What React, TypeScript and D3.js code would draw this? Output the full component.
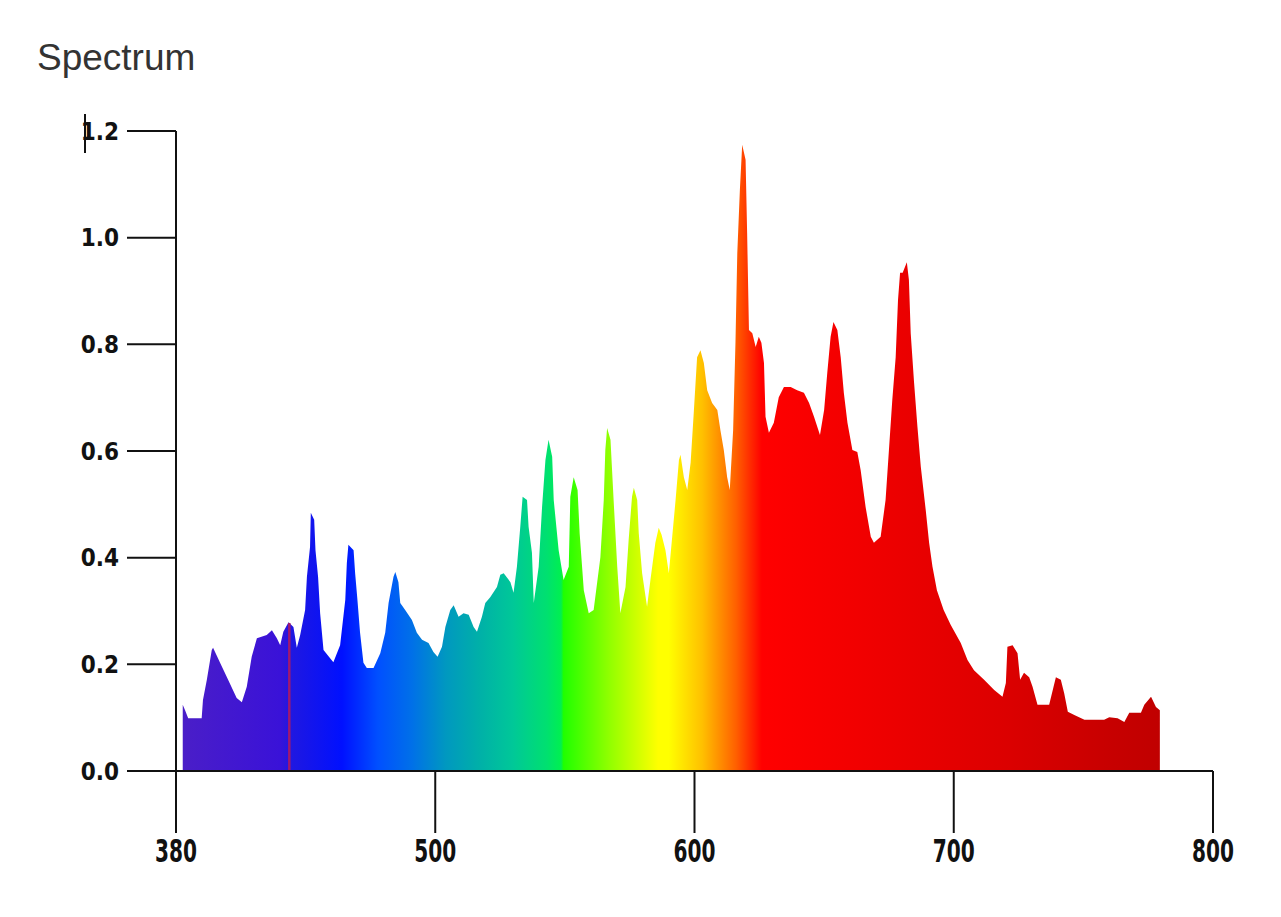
import React from "react";
import * as d3 from "d3";

// ---- data ----
const wavelengths = [
  402.6, 403.5, 404.7, 409.9, 410.4, 411.9, 413.8, 414.3, 417.0, 420.1,
  423.4, 425.4, 427.3, 429.2, 431.2, 435.0, 437.0, 438.9, 440.2, 441.4,
  443.4, 445.3, 446.6, 447.9, 449.8, 450.5, 451.7, 452.0, 453.3, 453.8,
  454.8, 455.6, 456.9, 460.7, 463.3, 465.3, 465.9, 466.5, 468.5, 469.1,
  469.9, 471.0, 472.3, 473.6, 476.2, 478.8, 480.7, 482.0, 483.9, 484.6,
  485.8, 486.5, 488.4, 491.0, 492.9, 494.9, 497.4, 499.3, 500.9, 502.6,
  503.9, 505.8, 507.1, 509.0, 510.9, 512.9, 514.8, 516.1, 518.0, 519.3,
  521.2, 523.8, 525.1, 526.4, 529.0, 530.2, 531.5, 532.8, 533.7, 535.4,
  536.0, 537.3, 538.0, 539.9, 541.2, 542.5, 543.7, 545.1, 545.7, 547.6,
  549.5, 551.5, 552.1, 553.4, 554.9, 555.7, 557.3, 559.2, 561.1, 563.7,
  565.0, 565.6, 566.3, 567.6, 568.8, 570.2, 571.4, 573.4, 574.6, 575.9,
  576.6, 577.9, 578.5, 579.8, 581.7, 583.0, 584.9, 586.2, 587.3, 588.8,
  590.1, 591.4, 592.7, 594.0, 594.6, 595.9, 597.2, 598.5, 599.7, 601.0,
  602.3, 603.6, 604.9, 606.8, 608.8, 610.0, 611.3, 612.6, 613.6, 614.9,
  615.8, 616.5, 617.5, 618.4, 619.7, 620.3, 621.0, 622.3, 623.6, 624.8,
  625.8, 626.8, 627.4, 628.7, 630.6, 632.5, 634.5, 637.1, 639.6, 642.2,
  644.2, 646.1, 648.4, 650.0, 651.2, 652.5, 653.6, 655.1, 656.4, 657.6,
  659.0, 660.9, 662.8, 664.1, 666.0, 668.0, 669.2, 671.8, 673.7, 675.0,
  676.3, 677.6, 678.5, 679.3, 680.3, 681.9, 682.7, 683.4, 684.7, 686.0,
  687.3, 689.2, 690.5, 691.8, 693.5, 696.1, 698.8, 702.7, 705.3, 707.8,
  711.7, 715.6, 718.8, 720.1, 720.7, 722.7, 724.6, 725.6, 727.1, 729.1,
  730.4, 732.3, 736.8, 738.5, 739.4, 741.3, 742.6, 744.0, 746.5, 750.4,
  758.0, 760.0, 763.2, 765.8, 767.7, 772.2, 773.5, 776.1, 778.0, 779.5,
];
const intensities = [
  0.124, 0.114, 0.099, 0.099, 0.133, 0.171, 0.227, 0.231, 0.203, 0.171,
  0.137, 0.129, 0.158, 0.214, 0.249, 0.255, 0.264, 0.249, 0.236, 0.261,
  0.279, 0.270, 0.231, 0.255, 0.302, 0.364, 0.420, 0.484, 0.471, 0.414,
  0.364, 0.296, 0.227, 0.204, 0.236, 0.321, 0.390, 0.424, 0.414, 0.371,
  0.326, 0.259, 0.203, 0.193, 0.193, 0.221, 0.259, 0.315, 0.364, 0.373,
  0.354, 0.315, 0.302, 0.283, 0.259, 0.246, 0.240, 0.223, 0.214, 0.233,
  0.270, 0.302, 0.311, 0.289, 0.296, 0.293, 0.270, 0.261, 0.289, 0.315,
  0.326, 0.345, 0.368, 0.371, 0.354, 0.334, 0.383, 0.458, 0.514, 0.508,
  0.458, 0.409, 0.315, 0.383, 0.495, 0.583, 0.621, 0.589, 0.508, 0.414,
  0.358, 0.383, 0.514, 0.551, 0.527, 0.446, 0.339, 0.296, 0.302, 0.401,
  0.508, 0.602, 0.643, 0.621, 0.508, 0.383, 0.296, 0.345, 0.433, 0.514,
  0.531, 0.508, 0.446, 0.371, 0.308, 0.358, 0.428, 0.456, 0.443, 0.414,
  0.371, 0.439, 0.508, 0.583, 0.593, 0.551, 0.527, 0.578, 0.671, 0.776,
  0.789, 0.765, 0.714, 0.690, 0.677, 0.639, 0.602, 0.551, 0.527, 0.639,
  0.803, 0.971, 1.089, 1.174, 1.146, 1.009, 0.827, 0.821, 0.795, 0.814,
  0.803, 0.765, 0.664, 0.634, 0.653, 0.701, 0.720, 0.720, 0.714, 0.709,
  0.690, 0.664, 0.630, 0.677, 0.746, 0.814, 0.842, 0.827, 0.776, 0.709,
  0.653, 0.602, 0.598, 0.564, 0.495, 0.439, 0.428, 0.439, 0.508, 0.602,
  0.696, 0.776, 0.883, 0.934, 0.934, 0.954, 0.921, 0.821, 0.728, 0.645,
  0.570, 0.489, 0.428, 0.383, 0.339, 0.302, 0.274, 0.240, 0.208, 0.189,
  0.171, 0.152, 0.139, 0.165, 0.233, 0.236, 0.221, 0.171, 0.184, 0.176,
  0.158, 0.124, 0.124, 0.158, 0.176, 0.171, 0.146, 0.111, 0.105, 0.096,
  0.096, 0.101, 0.099, 0.092, 0.109, 0.109, 0.124, 0.139, 0.120, 0.114,
];

// spectral colour stops (wavelength -> colour)
const stopWavelengths = [
  402.6, 440, 444, 464, 478, 491, 504, 517, 530, 543, 548.5, 549.5,
  567, 586, 590, 603, 616, 626, 668, 720, 759, 780,
];
const stopColors = [
  "#4a1ec8", "#3a12d8", "#2018e0", "#0010ff", "#0050ff", "#0070e8",
  "#0098c0", "#00b0a8", "#00c898", "#00e070", "#00f050", "#20ff00",
  "#90ff00", "#ffff00", "#ffff00", "#ffc000", "#ff6000", "#ff0000",
  "#f00000", "#dc0000", "#c80000", "#c00000",
];

const markerWavelength = 443.7;

const xDomain = [400, 800];
const xTickValues = [400, 500, 600, 700, 800];
const xTickLabels = ["380", "500", "600", "700", "800"];
const yDomain = [0, 1.2];
const yTickValues = [0, 0.2, 0.4, 0.6, 0.8, 1.0, 1.2];

const title = "Spectrum";

export default function App() {
  const W = 1281;
  const H = 917;
  const left = 176;
  const right = 1213;
  const top = 131;
  const bottom = 771;

  const x = d3.scaleLinear().domain(xDomain).range([left, right]);
  const y = d3.scaleLinear().domain(yDomain).range([bottom, top]);

  const data = wavelengths.map((w, i) => ({ w, v: intensities[i] }));
  const area = d3
    .area<{ w: number; v: number }>()
    .x((d) => x(d.w))
    .y0(y(0))
    .y1((d) => y(d.v))
    .curve(d3.curveLinear);

  const interp = d3.scaleLinear().domain(wavelengths).range(intensities);
  const markerTop = interp(markerWavelength);

  const axisColor = "#111";
  const tickFont = "'Liberation Sans Narrow', 'DejaVu Sans Condensed', Arial, sans-serif";

  return (
    <svg
      width={W}
      height={H}
      style={{ position: "fixed", left: 0, top: 0, background: "#fff" }}
    >
      <defs>
        <linearGradient
          id="spec"
          gradientUnits="userSpaceOnUse"
          x1={x(xDomain[0])}
          x2={x(xDomain[1])}
          y1={0}
          y2={0}
        >
          {stopWavelengths.map((w, i) => (
            <stop
              key={i}
              offset={(w - xDomain[0]) / (xDomain[1] - xDomain[0])}
              stopColor={stopColors[i]}
            />
          ))}
        </linearGradient>
      </defs>

      <text
        x={37}
        y={70}
        fontFamily="'Liberation Sans', Arial, sans-serif"
        fontSize={37}
        fill="#333"
      >
        {title}
      </text>

      <path d={area(data) || ""} fill="url(#spec)" />
      <line
        x1={x(markerWavelength)}
        x2={x(markerWavelength)}
        y1={y(markerTop)}
        y2={y(0)}
        stroke="#a01870"
        strokeWidth={2.5}
      />

      {/* y axis */}
      <line x1={left} x2={left} y1={y(yDomain[1])} y2={833} stroke={axisColor} strokeWidth={2} />
      {yTickValues.map((v) => (
        <g key={v}>
          <line x1={127} x2={left} y1={y(v)} y2={y(v)} stroke={axisColor} strokeWidth={2} />
          <text
            x={119}
            y={y(v)}
            dy="0.36em"
            textAnchor="end"
            fontFamily={tickFont}
            fontWeight="bold"
            fontSize={24}
            fill="#111"
          >
            {v.toFixed(1)}
          </text>
        </g>
      ))}
      <line x1={85} x2={85} y1={114} y2={153} stroke={axisColor} strokeWidth={2} />

      {/* x axis */}
      <line x1={127} x2={right} y1={y(0)} y2={y(0)} stroke={axisColor} strokeWidth={2} />
      {xTickValues.map((t, i) => (
        <g key={t}>
          <line x1={x(t)} x2={x(t)} y1={y(0)} y2={833} stroke={axisColor} strokeWidth={2} />
          <text
            x={x(t)}
            y={862}
            textAnchor="middle"
            fontFamily={tickFont}
            fontWeight="bold"
            fontSize={32}
            textLength={42}
            lengthAdjust="spacingAndGlyphs"
            fill="#111"
          >
            {xTickLabels[i]}
          </text>
        </g>
      ))}
    </svg>
  );
}
